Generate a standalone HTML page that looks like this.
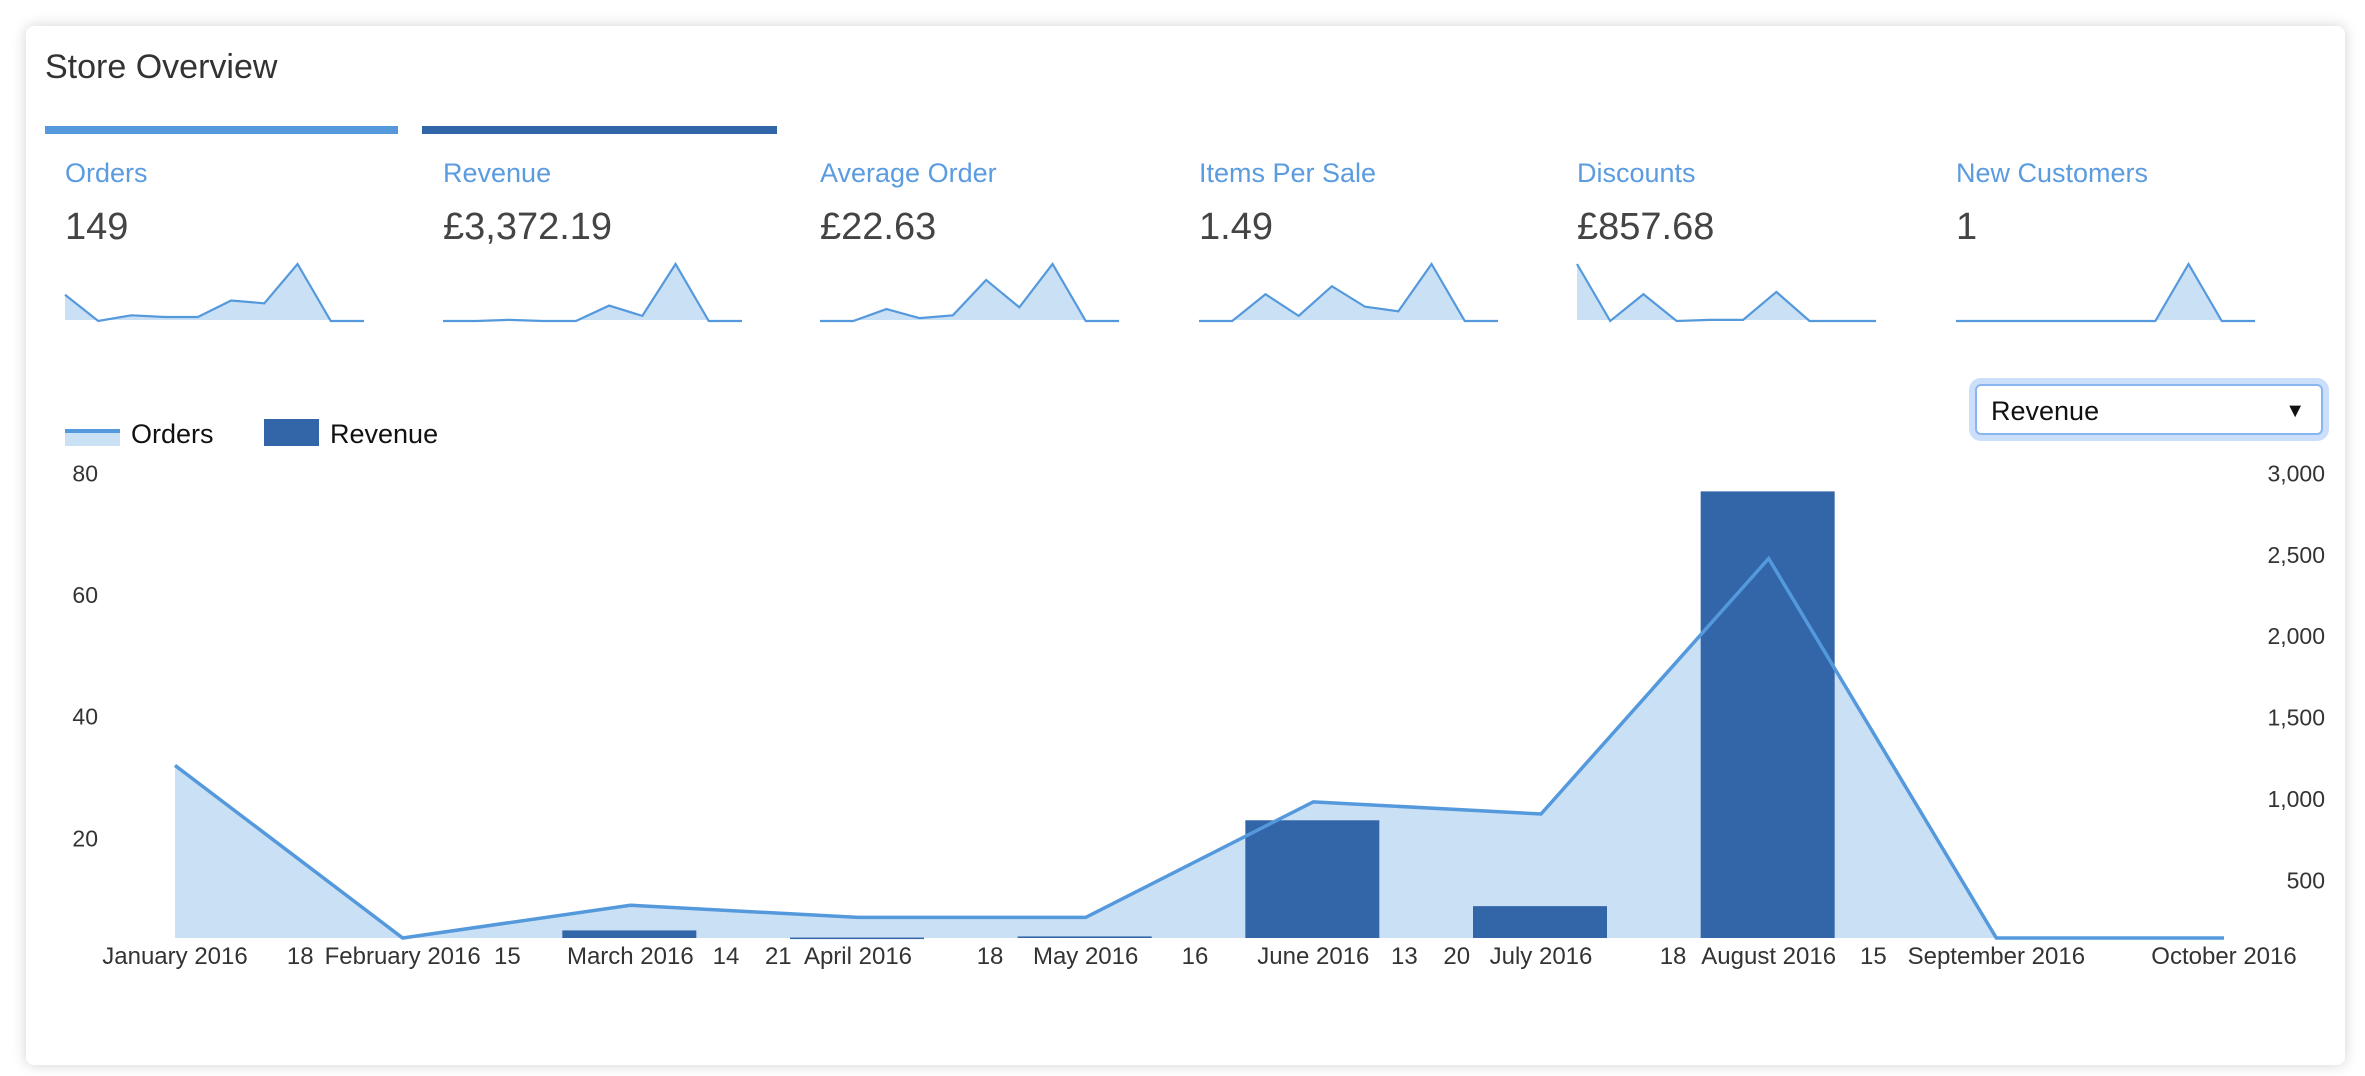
<!DOCTYPE html>
<html><head><meta charset="utf-8"><style>
html,body{margin:0;padding:0;background:#fff;}
body{width:2365px;height:1076px;position:relative;overflow:hidden;font-family:"Liberation Sans",Arial,sans-serif;}
#card{position:absolute;left:26px;top:26px;width:2319px;height:1039px;background:#fff;border-radius:8px;box-shadow:0 0 14px rgba(0,0,0,0.18);}
svg{position:absolute;left:0;top:0;}
#sel{position:absolute;left:1975px;top:384px;width:348px;height:51px;border:2px solid #8ab6ef;border-radius:6px;box-shadow:0 0 0 6px #cbdffb;background:#fff;font-size:27px;line-height:51px;padding-left:14px;box-sizing:border-box;color:#111;}
#sel span{position:absolute;right:16px;top:0;font-size:20px;}
</style></head><body>
<div id="card"></div>
<svg id="chart" width="2365" height="1076"></svg>
<div id="sel">Revenue<span>▼</span></div>
<script>
const months = ["January 2016","February 2016","March 2016","April 2016","May 2016","June 2016","July 2016","August 2016","September 2016","October 2016"];
const orders = [32,0,9,7,7,26,24,66,0,0];
const revenue = [0,0,194,150,157,870,343,2889,0,0];
const leftTicks = [20,40,60,80];
const rightTicks = [500,1000,1500,2000,2500,3000];
const rightTickLabels = ["500","1,000","1,500","2,000","2,500","3,000"];
const minorTicks = [["18",0.55],["15",1.46],["14",2.42],["21",2.65],["18",3.58],["16",4.48],["13",5.4],["20",5.63],["18",6.58],["15",7.46]];
const metricLabels = ["Orders","Revenue","Average Order","Items Per Sale","Discounts","New Customers"];
const metricValues = ["149","£3,372.19","£22.63","1.49","£857.68","1"];
const spark0 = [0.46,0,0.1,0.07,0.07,0.36,0.31,1,0,0];
const spark1 = [0,0,0.02,0,0,0.27,0.09,1,0,0];
const spark2 = [0,0,0.21,0.05,0.1,0.72,0.24,1,0,0];
const spark3 = [0,0,0.47,0.09,0.61,0.25,0.17,1,0,0];
const spark4 = [1,0,0.47,0,0.02,0.02,0.51,0,0,0];
const spark5 = [0,0,0,0,0,0,0,1,0,0];
const sparks = [spark0,spark1,spark2,spark3,spark4,spark5];

const NS="http://www.w3.org/2000/svg";
const svg=document.getElementById('chart');
function mk(tag,attrs,parent){const e=document.createElementNS(NS,tag);for(const k in attrs)e.setAttribute(k,attrs[k]);(parent||svg).appendChild(e);return e;}
function txt(s,attrs){const t=mk('text',attrs);t.textContent=s;return t;}

let t=txt("Store Overview",{x:45,y:78,'font-size':34,fill:'#333'});


let r=mk('rect',{x:45,y:126,width:353,height:8,fill:'#5599dd'});


r=mk('rect',{x:422,y:126,width:355,height:8,fill:'#3366a8'});



const colX=[65,443,820,1199,1577,1956];
metricLabels.forEach((lab,i)=>{
  const x=colX[i];
  let a=txt(lab,{x:x,y:182,'font-size':27,fill:'#5b9be0'});
  
  
  let b=txt(metricValues[i],{x:x,y:239,'font-size':38,fill:'#444'});
  
  
  const d=sparks[i], w=299, top=264, bot=321, n=d.length;
  const px=j=>x+j*w/(n-1), py=v=>bot-v*(bot-top);
  let pts=d.map((v,j)=>px(j)+','+py(v)).join(' ');
  let area=mk('polygon',{points:px(0)+','+(bot-1)+' '+pts+' '+px(n-1)+','+(bot-1),fill:'#cae0f5'});
  
  
  let line=mk('polyline',{points:pts,fill:'none',stroke:'#5599dd','stroke-width':2.2});
  
  
});

let g=mk('rect',{x:65,y:432,width:55,height:14,fill:'#cae0f5'});


mk('rect',{x:65,y:429,width:55,height:4,fill:'#5599dd'});
t=txt("Orders",{x:131,y:443,'font-size':27,fill:'#111'});


g=mk('rect',{x:264,y:419,width:55,height:27,fill:'#3366a8'});


t=txt("Revenue",{x:330,y:443,'font-size':27,fill:'#111'});



const base=938;
const x0=175, dx=(2224-175)/9;
const xs=i=>x0+i*dx;
const yL=v=>Math.min(base,960-v*6.083);
const yR=v=>Math.min(base,962-v*0.1629);

let apts=orders.map((v,i)=>xs(i)+','+yL(v)).join(' ');
let area=mk('polygon',{points:xs(0)+','+base+' '+apts+' '+xs(orders.length-1)+','+base,fill:'#cae0f5'});


revenue.forEach((v,i)=>{
  if(v<=0)return;
  const y=yR(v);
  let b=mk('rect',{x:xs(i)-68,y:y,width:134,height:Math.max(1.5,base-y),fill:'#3366a8'});
  
  
});
let ln=mk('polyline',{points:apts,fill:'none',stroke:'#5599dd','stroke-width':3.5});



leftTicks.forEach(v=>{
  let a=txt(String(v),{x:98,y:960-v*6.083+8,'font-size':23,fill:'#333','text-anchor':'end'});
  
  
});
rightTicks.forEach((v,i)=>{
  let a=txt(rightTickLabels[i],{x:2325,y:962-v*0.1629+8,'font-size':23,fill:'#333','text-anchor':'end'});
  
  
});
months.forEach((m,i)=>{
  let a=txt(m,{x:xs(i),y:964,'font-size':24,fill:'#333','text-anchor':'middle'});
  
  
});
minorTicks.forEach(([s,p])=>{
  let a=txt(s,{x:xs(p),y:964,'font-size':24,fill:'#333','text-anchor':'middle'});
  
  
});
</script>
</body></html>
